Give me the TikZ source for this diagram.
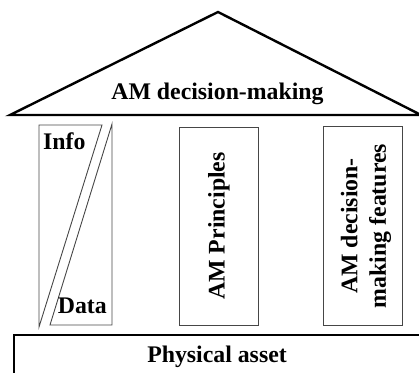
\documentclass[tikz,border=0pt]{standalone}
\usepackage{fontspec}
\setmainfont{Liberation Serif}
\usepackage{tikz}
\usetikzlibrary{positioning,calc}
\usepackage{xcolor}
\definecolor{pillargray}{RGB}{70,70,70}

\begin{document}
\begin{tikzpicture}[x=1pt, y=1pt,
    every node/.style={font=\fontsize{23.8}{28.5}\selectfont\bfseries, inner sep=0pt},
    heavy/.style={line width=2.4pt, line join=miter},
    pillar/.style={line width=0.9pt, draw=pillargray}]
  \clip (0,0) rectangle (419,372);
  % roof
  \coordinate (apex) at (218,360);
  \coordinate (eaveL) at (10,257);
  \coordinate (eaveR) at (421,257);
  \draw[heavy] (eaveL) -- (apex) -- (eaveR) -- cycle;
  \node[anchor=base] (roof) at (217.5,272) {AM decision-making};
  % split pillar
  \draw[pillar] (39,247) -- (102,247) -- (39,45) -- cycle;
  \draw[pillar] (112,248) -- (112,47) -- (50,47) -- cycle;
  \node[anchor=base west] (info) at (43,222) {Info};
  \node[anchor=base east] (data) at (107,59) {Data};
  % pillars
  \draw[pillar] (179,47) rectangle (258,245);
  \node[rotate=90] (principles) at (219,146) {AM Principles};
  \draw[pillar] (323,47) rectangle (402,246);
  \node[rotate=90, align=center] (features) at (366,146) {AM decision-\\making features};
  % foundation
  \draw[heavy] (14,-10) -- (14,37) -- (440,37);
  \node[anchor=base] (asset) at (217,10) {Physical asset};
\end{tikzpicture}
\end{document}
